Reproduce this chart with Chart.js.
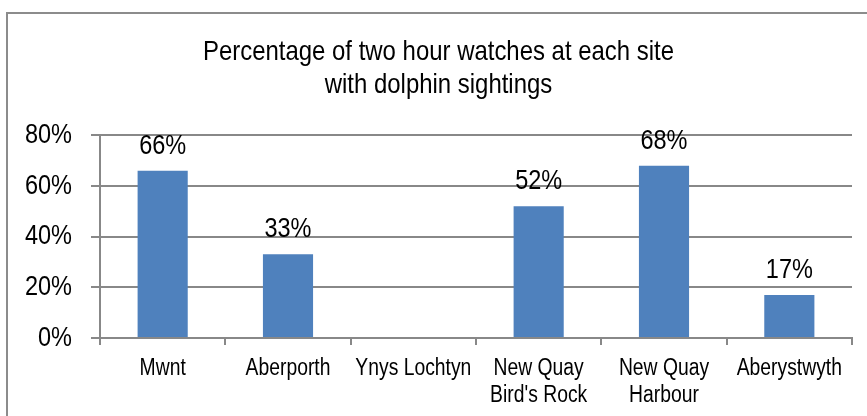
<!DOCTYPE html>
<html>
<head>
<meta charset="utf-8">
<script src="https://cdn.jsdelivr.net/npm/chart.js@4.4.1/dist/chart.umd.min.js"></script>
<style>
  html, body { margin: 0; padding: 0; background: #fff; }
  #wrap { position: relative; width: 867px; height: 416px; }
</style>
</head>
<body>
<div id="wrap"><canvas id="sightChart" width="867" height="416"></canvas></div>
<script>
// sites and share of watches with sightings (%)
const sites = ["Mwnt", "Aberporth", "Ynys Lochtyn", ["New Quay", "Bird's Rock"], ["New Quay", "Harbour"], "Aberystwyth"];
const sightingPct = [66, 33, 0, 52, 68, 17];
const yTicks = [0, 20, 40, 60, 80];
const titleLines = ["Percentage of two hour watches at each site", "with dolphin sightings"];

const FONT = "'Liberation Sans', Arial, sans-serif";
const NARROW = 0.84;   // no Arial Narrow here, so squeeze the glyphs
const GRID = "#888888";

// draw every text a bit condensed, anchored where chart.js puts it
const narrowText = {
  id: "narrowText",
  beforeInit(chart) {
    const c = chart.ctx;
    const raw = c.fillText;
    c.fillText = function (text, x, y, maxWidth) {
      this.save();
      this.translate(x, y);
      this.scale(NARROW, 1);
      if (maxWidth !== undefined) raw.call(this, text, 0, 0, maxWidth / NARROW);
      else raw.call(this, text, 0, 0);
      this.restore();
    };
  }
};

// outer frame of the chart object
const frame = {
  id: "frame",
  beforeDraw(chart) {
    const c = chart.ctx;
    c.save();
    c.strokeStyle = "#8c8c8c";
    c.lineWidth = 2;
    c.strokeRect(7, 13, 900, 500);
    c.restore();
  }
};

// value labels above bars
const barLabels = {
  id: "barLabels",
  afterDatasetsDraw(chart) {
    const c = chart.ctx;
    const meta = chart.getDatasetMeta(0);
    c.save();
    c.font = "28px " + FONT;
    c.fillStyle = "#000";
    c.textAlign = "center";
    c.textBaseline = "alphabetic";
    meta.data.forEach((bar, i) => {
      const v = sightingPct[i];
      if (!v) return;
      c.fillText(v + "%", bar.x, bar.y - 17);
    });
    c.restore();
  }
};

const ctx = document.getElementById("sightChart").getContext("2d");
new Chart(ctx, {
  type: "bar",
  data: {
    labels: sites,
    datasets: [{
      data: sightingPct,
      backgroundColor: "#4f81bd",
      borderWidth: 0,
      barPercentage: 0.8,
      categoryPercentage: 0.5
    }]
  },
  options: {
    responsive: false,
    animation: false,
    layout: { padding: { left: 25, right: 15, top: 0, bottom: 0 } },
    plugins: {
      legend: { display: false },
      tooltip: { enabled: false },
      title: {
        display: true,
        text: titleLines,
        color: "#000",
        font: { family: FONT, size: 28.5, weight: "normal", lineHeight: 1.18 },
        padding: { top: 35, bottom: 33 }
      }
    },
    scales: {
      x: {
        offset: true,
        grid: { offset: true, drawOnChartArea: false, color: GRID, lineWidth: 2, tickLength: 7 },
        border: { color: GRID, width: 2 },
        ticks: {
          color: "#000",
          font: { family: FONT, size: 23, lineHeight: 1.14 },
          padding: 11,
          maxRotation: 0,
          autoSkip: false
        },
        afterFit(s) { s.height = 78; }
      },
      y: {
        min: 0,
        max: 80,
        afterBuildTicks(s) { s.ticks = yTicks.map(v => ({ value: v })); },
        grid: { color: GRID, lineWidth: 2, tickLength: 9 },
        border: { color: GRID, width: 2 },
        ticks: {
          color: "#000",
          font: { family: FONT, size: 28 },
          padding: 19,
          callback: v => v + "%"
        },
        afterFit(s) { s.width = 75; }
      }
    }
  },
  plugins: [narrowText, frame, barLabels]
});
</script>
</body>
</html>
